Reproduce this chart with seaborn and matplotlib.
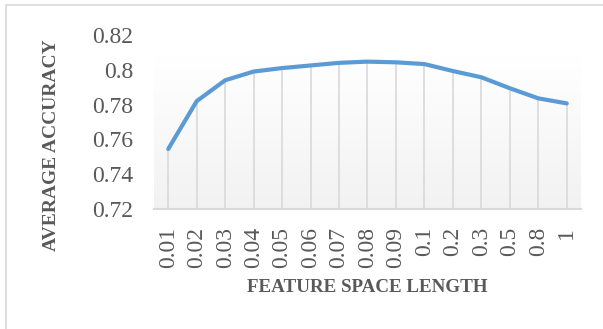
import numpy as np
import pandas as pd
import matplotlib
matplotlib.use("Agg")
import matplotlib.pyplot as plt
import seaborn as sns

# data
lengths = ["0.01", "0.02", "0.03", "0.04", "0.05", "0.06", "0.07", "0.08",
           "0.09", "0.1", "0.2", "0.3", "0.5", "0.8", "1"]
accuracy = [0.7545, 0.782, 0.794, 0.799, 0.801, 0.8025, 0.804, 0.8047,
            0.8043, 0.8033, 0.7993, 0.7957, 0.7894, 0.7836, 0.7807]
yticks = [0.72, 0.74, 0.76, 0.78, 0.8, 0.82]
ytick_labels = ["0.72", "0.74", "0.76", "0.78", "0.8", "0.82"]

df = pd.DataFrame({"length": lengths, "accuracy": accuracy})
df["pos"] = np.arange(len(df))

sns.set_style("white")
plt.rcParams["font.family"] = ["Liberation Serif", "DejaVu Serif"]

txt = "#595959"
grid = "#D9D9D9"
blue = "#5B9BD5"

fig = plt.figure(figsize=(6.03, 3.29), dpi=100)
ax = fig.add_axes([0.2554, 0.3647, 0.7081, 0.5289])

# outer chart frame (top and left edges visible)
fig.patches.append(plt.Rectangle((0.01, -0.05), 1.2, 1.034, transform=fig.transFigure,
                                 fill=False, edgecolor=grid, lw=1.2, zorder=0))

# plot area gradient background
cm = matplotlib.colors.LinearSegmentedColormap.from_list("g", ["#F2F2F2", "#FFFFFF"])
grad = np.linspace(0.0, 1.0, 256).reshape(-1, 1)
ax.imshow(grad, cmap=cm, extent=[-0.5, len(lengths) - 0.5, 0.72, 0.8074],
          aspect="auto", origin="lower", zorder=0, vmin=0, vmax=1)

# drop lines
ax.vlines(df["pos"], 0.72, df["accuracy"], color=grid, lw=1.2, zorder=1)

sns.lineplot(data=df, x="pos", y="accuracy", ax=ax, color=blue, lw=3,
             solid_capstyle="round", zorder=3)

ax.set_xlim(-0.5, len(lengths) - 0.5)
ax.set_ylim(0.72, 0.82)
ax.set_xticks(df["pos"])
ax.set_xticklabels(lengths, rotation=90, fontsize=17, color=txt)
ax.set_yticks(yticks)
ax.set_yticklabels(ytick_labels, fontsize=17, color=txt)
ax.tick_params(axis="x", length=0, pad=13)
ax.tick_params(axis="y", length=0, pad=15)

for s in ["top", "right", "left"]:
    ax.spines[s].set_visible(False)
ax.spines["bottom"].set_color(grid)
ax.spines["bottom"].set_linewidth(1.5)
ax.patch.set_alpha(0)

ax.set_xlabel("")
ax.set_ylabel("")
fig.text(367 / 603, 1 - 287 / 329, "FEATURE SPACE LENGTH", ha="center",
         va="center", fontsize=13.7, fontweight="bold", color=txt)
fig.text(52 / 603, 1 - 145 / 329, "AVERAGE ACCURACY", rotation=90, ha="center",
         va="center", fontsize=14, fontweight="bold", color=txt)

fig.savefig("out.png", dpi=100)
